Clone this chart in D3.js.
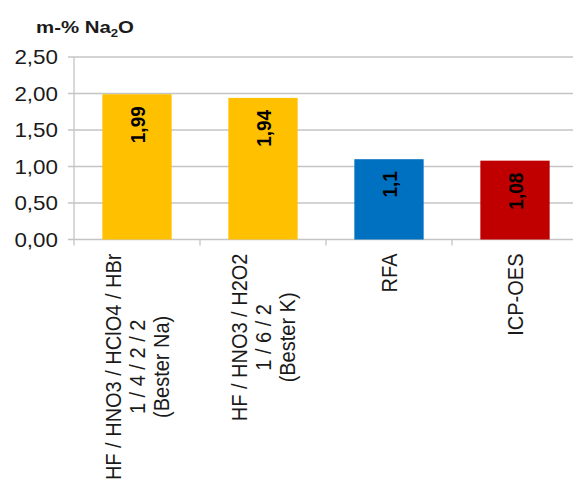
<!DOCTYPE html>
<html><head><meta charset="utf-8">
<script src="https://cdn.jsdelivr.net/npm/d3@7"></script>
<style>
html,body{margin:0;padding:0;background:#fff;}
svg{display:block;}
text{font-family:"Liberation Sans",Arial,sans-serif;}
</style></head>
<body>
<svg id="chart" width="573" height="491"></svg>
<script>
const categories = [
  ["HF / HNO3 / HClO4 / HBr", "1 / 4 / 2 / 2", "(Bester Na)"],
  ["HF / HNO3 / H2O2", "1 / 6 / 2", "(Bester K)"],
  ["RFA"],
  ["ICP-OES"]
];
const values = [1.99, 1.94, 1.1, 1.08];
const valueLabels = ["1,99", "1,94", "1,1", "1,08"];
const barColors = ["#FFC000", "#FFC000", "#0070C0", "#C00000"];
const yTicks = [0, 0.5, 1.0, 1.5, 2.0, 2.5];
const yTickLabels = ["0,00", "0,50", "1,00", "1,50", "2,00", "2,50"];

const svg = d3.select("#chart");
const pLeft = 74, pRight = 578, pTop = 57, pBottom = 239.5;
const x = d3.scaleBand().domain(d3.range(categories.length)).range([pLeft, pRight]).paddingInner(0.45).paddingOuter(0.225);
const y = d3.scaleLinear().domain([0, 2.5]).range([pBottom, pTop]);
const gridColor = "#C4C4C4";

// gridlines
svg.append("g").selectAll("line").data(yTicks).join("line")
  .attr("x1", pLeft - 6).attr("x2", 573)
  .attr("y1", d => y(d)).attr("y2", d => y(d))
  .attr("stroke", gridColor).attr("stroke-width", 1.3);

// y axis line
svg.append("line").attr("x1", pLeft).attr("x2", pLeft).attr("y1", pTop).attr("y2", pBottom + 6)
  .attr("stroke", gridColor).attr("stroke-width", 1.3);

// category ticks
const bandStep = x.step();
svg.append("g").selectAll("line").data(d3.range(1, categories.length)).join("line")
  .attr("x1", i => pLeft + i * bandStep).attr("x2", i => pLeft + i * bandStep)
  .attr("y1", pBottom).attr("y2", pBottom + 6)
  .attr("stroke", gridColor).attr("stroke-width", 1.3);

// y tick labels (slightly widened like the reference)
svg.append("g").selectAll("text").data(yTicks).join("text")
  .attr("transform", d => `translate(58,${y(d)}) scale(1.12,1)`)
  .attr("dy", "0.36em")
  .attr("text-anchor", "end").attr("font-size", 20).attr("fill", "#1a1a1a")
  .text((d, i) => yTickLabels[i]);

// bars
svg.append("g").selectAll("rect").data(values).join("rect")
  .attr("x", (d, i) => x(i)).attr("width", x.bandwidth())
  .attr("y", d => y(d)).attr("height", d => y(0) - y(d))
  .attr("fill", (d, i) => barColors[i]);

// value labels
svg.append("g").selectAll("text").data(values).join("text")
  .attr("transform", (d, i) => `translate(${x(i) + x.bandwidth() / 2},${y(d) + 12}) scale(1.1,1) rotate(-90)`)
  .attr("text-anchor", "end").attr("dy", "0.36em")
  .attr("font-size", 19).attr("font-weight", "bold").attr("fill", "#000")
  .text((d, i) => valueLabels[i]);

// category labels
const lineH = 22.3;
categories.forEach((lines, i) => {
  const cx = x(i) + x.bandwidth() / 2;
  const g = svg.append("g");
  const t = g.append("text").attr("font-size", 20).attr("fill", "#1a1a1a").attr("text-anchor", "middle");
  const n = lines.length;
  lines.forEach((ln, j) => {
    t.append("tspan").attr("x", 0).attr("y", (j - (n - 1) / 2) * lineH).attr("dy", "0.36em").text(ln);
  });
  let maxW = 0;
  t.selectAll("tspan").each(function () { maxW = Math.max(maxW, this.getComputedTextLength()); });
  g.attr("transform", `translate(${cx},${pBottom + 14 + maxW / 2}) scale(1.08,1) rotate(-90)`);
});

// title
const title = svg.append("text").attr("transform", "translate(36,33) scale(1.2,1)")
  .attr("font-size", 17).attr("font-weight", "bold").attr("fill", "#1a1a1a");
title.append("tspan").text("m-% Na");
title.append("tspan").attr("font-size", 11).attr("dy", 4).text("2");
title.append("tspan").attr("dy", -4).text("O");
</script>
</body></html>
